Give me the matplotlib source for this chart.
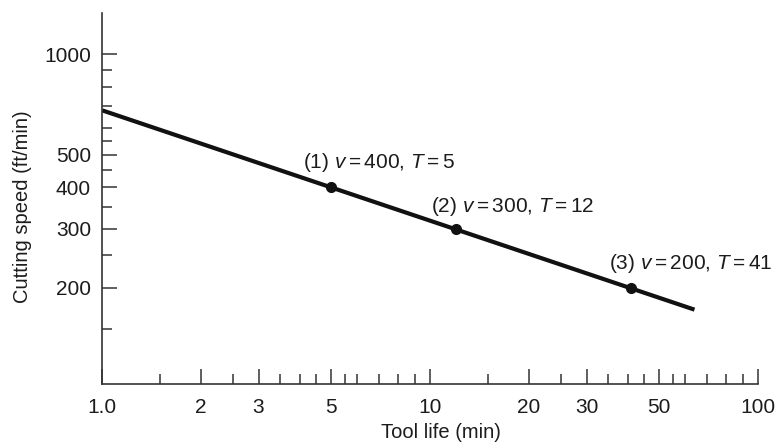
import matplotlib
matplotlib.use("Agg")
import matplotlib.pyplot as plt
from matplotlib.ticker import FixedLocator, NullFormatter

plt.rcParams['font.family'] = ['Liberation Sans', 'DejaVu Sans']
plt.rcParams['mathtext.fontset'] = 'custom'
plt.rcParams['mathtext.rm'] = 'Liberation Sans'
plt.rcParams['mathtext.it'] = 'Liberation Sans:italic'

# Taylor tool life line
line_T = [1, 64]
line_v = [680, 172]

# measured points
point_T = [5, 12, 41]
point_v = [400, 300, 200]
point_labels = [r'(1) $v = 400$, $T = 5$',
                r'(2) $v = 300$, $T = 12$',
                r'(3) $v = 200$, $T = 41$']

x_major = [1, 2, 3, 5, 10, 20, 30, 50, 100]
x_major_labels = ['1.0', '2', '3', '5', '10', '20', '30', '50', '100']
x_minor = [1.5, 2.5, 3.5, 4, 4.5, 5.5, 6, 7, 8, 9,
           15, 25, 35, 40, 45, 55, 60, 70, 80, 90]
y_major = [200, 300, 400, 500, 1000]
y_major_labels = ['200', '300', '400', '500', '1000']
y_minor = [150, 250, 350, 450, 550, 600, 700, 800, 900]

ink = '#1c1c1c'

fig = plt.figure(figsize=(7.77, 4.44), dpi=100)
ax = fig.add_axes([0.1313, 0.1351, 0.8443, 0.8356])

ax.plot(line_T, line_v, color='#111111', lw=3.0, solid_capstyle='butt')
ax.plot(point_T, point_v, 'o', color='#111111', ms=7)

# label offsets in pixels (left edge, vertical centre)
offsets = [(-28, 25), (-25, 22), (-22, 24)]
for t, v, lab, off in zip(point_T, point_v, point_labels, offsets):
    ax.annotate(lab, (t, v), xytext=off, textcoords='offset pixels',
                ha='left', va='center', fontsize=15, color=ink)

ax.set_xscale('log')
ax.set_yscale('log')
ax.set_xlim(1, 100)
ax.set_ylim(103, 1330)

ax.xaxis.set_major_locator(FixedLocator(x_major))
ax.xaxis.set_minor_locator(FixedLocator(x_minor))
ax.set_xticklabels(x_major_labels)
ax.xaxis.set_minor_formatter(NullFormatter())
ax.yaxis.set_major_locator(FixedLocator(y_major))
ax.yaxis.set_minor_locator(FixedLocator(y_minor))
ax.set_yticklabels(y_major_labels)
ax.yaxis.set_minor_formatter(NullFormatter())

ax.tick_params(which='major', direction='in', length=11, width=1.1,
               color='#333333', labelsize=15, labelcolor=ink, pad=8)
ax.tick_params(axis='x', which='major', pad=10)
ax.tick_params(which='minor', direction='in', length=7.5, width=1.1,
               color='#333333')

for side in ['top', 'right']:
    ax.spines[side].set_visible(False)
for side in ['left', 'bottom']:
    ax.spines[side].set_linewidth(1.2)
    ax.spines[side].set_color('#333333')

ax.set_xlabel('Tool life (min)', fontsize=14.5, color=ink)
ax.set_ylabel('Cutting speed (ft/min)', fontsize=14.5, color=ink)
# label centres measured in the figure (pixels -> axes fraction)
ax.xaxis.set_label_coords((441 - 102) / 656, (384 - 432) / 371, transform=ax.transAxes)
ax.yaxis.set_label_coords((22 - 102) / 656, (384 - 207) / 371, transform=ax.transAxes)
ax.xaxis.label.set_va('center')
ax.yaxis.label.set_va('center')

fig.savefig('out.png', dpi=100)
